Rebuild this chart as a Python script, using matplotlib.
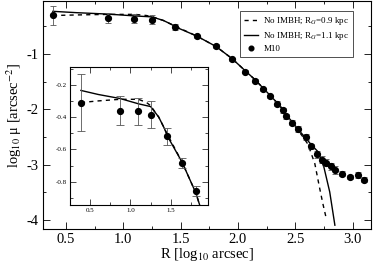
import numpy as np
import matplotlib
matplotlib.use("Agg")
import matplotlib.pyplot as plt
from matplotlib.ticker import MultipleLocator

plt.rcParams['font.family'] = ['Liberation Serif', 'DejaVu Serif']
plt.rcParams['mathtext.fontset'] = 'stix'
plt.rcParams['axes.unicode_minus'] = False

# M10 surface brightness profile
r_obs = [0.386, 0.865, 1.095, 1.25, 1.45, 1.64, 1.81, 1.945, 2.06, 2.15, 2.22, 2.28,
         2.34, 2.39, 2.42, 2.47, 2.52, 2.59, 2.64, 2.69, 2.73, 2.77, 2.81, 2.845,
         2.905, 2.98, 3.05, 3.10]
mu_obs = [-0.31, -0.36, -0.365, -0.385, -0.52, -0.685, -0.86, -1.10, -1.32, -1.485, -1.64, -1.77,
          -1.90, -2.02, -2.13, -2.24, -2.36, -2.50, -2.67, -2.81, -2.91, -2.96, -3.03, -3.09,
          -3.16, -3.22, -3.19, -3.27]
mu_err = [0.175, 0.09, 0.085, 0.085, 0.055, 0.03, 0.03, 0.03, 0.03, 0.03, 0.03, 0.03,
          0.04, 0.04, 0.04, 0.05, 0.05, 0.05, 0.05, 0.06, 0.06, 0.06, 0.07, 0.07,
          0.05, 0.04, 0.05, 0.05]

# model, R_G = 0.9 kpc (dashed)
r_09 = [0.386, 0.6, 0.87, 1.10, 1.20, 1.25, 1.35, 1.45, 1.64, 1.81, 1.95, 2.06, 2.15, 2.22,
        2.28, 2.34, 2.39, 2.42, 2.47, 2.52, 2.56, 2.61, 2.67, 2.71, 2.74, 2.77]
mu_09 = [-0.31, -0.30, -0.29, -0.29, -0.31, -0.33, -0.40, -0.50, -0.68, -0.87, -1.09, -1.30,
         -1.47, -1.62, -1.75, -1.88, -2.00, -2.10, -2.23, -2.37, -2.48, -2.63, -2.98, -3.40,
         -3.70, -3.97]

# model, R_G = 1.1 kpc (solid)
r_11 = [0.386, 0.6, 0.87, 1.10, 1.25, 1.35, 1.42, 1.46, 1.64, 1.81, 1.95, 2.06, 2.15, 2.22,
        2.28, 2.34, 2.39, 2.42, 2.47, 2.52, 2.59, 2.64, 2.70, 2.75, 2.80, 2.845]
mu_11 = [-0.235, -0.26, -0.285, -0.318, -0.335, -0.40, -0.47, -0.52, -0.68, -0.87, -1.09, -1.30,
         -1.47, -1.62, -1.75, -1.88, -2.00, -2.10, -2.22, -2.35, -2.52, -2.64, -2.77, -3.05,
         -3.49, -4.09]


def draw(ax, ms, lw, cap):
    ax.plot(r_09, mu_09, color='black', ls=(0, (3, 3)), lw=lw, label='No IMBH; R$_G$=0.9 kpc')
    ax.plot(r_11, mu_11, color='black', ls='-', lw=lw, label='No IMBH; R$_G$=1.1 kpc')
    ax.errorbar(r_obs, mu_obs, yerr=mu_err, fmt='none', elinewidth=0.6,
                capsize=cap, capthick=0.6, ecolor='#555555')
    ax.plot(r_obs, mu_obs, 'o', color='black', ms=ms, label='M10')


fig = plt.figure(figsize=(3.74, 2.67), dpi=100)
ax = fig.add_axes([0.115, 0.142, 0.877, 0.854])
draw(ax, 4.2, 1.0, 2.5)
ax.set_xlim(0.3, 3.16)
ax.set_ylim(-4.16, -0.05)
ax.xaxis.set_major_locator(MultipleLocator(0.5))
ax.xaxis.set_minor_locator(MultipleLocator(0.25))
ax.yaxis.set_major_locator(MultipleLocator(1))
ax.yaxis.set_minor_locator(MultipleLocator(0.5))
ax.tick_params(which='both', direction='in', top=True, right=True, labelsize=10.5, pad=3)
ax.tick_params(which='major', length=5, width=0.6)
ax.tick_params(which='minor', length=2.5, width=0.6)
for s in ax.spines.values():
    s.set_linewidth(0.8)
ax.set_xlabel('R [log$_{10}$ arcsec]', fontsize=10.5, labelpad=0)
ax.set_ylabel('log$_{10}$ μ [arcsec$^{-2}$]', fontsize=10.5, labelpad=2)

leg = ax.legend(loc='upper right', bbox_to_anchor=(0.945, 0.956), fontsize=6.5, frameon=True,
                fancybox=False, edgecolor='black', handlelength=1.6, borderpad=0.4,
                labelspacing=0.35, handletextpad=0.55, borderaxespad=0,
                numpoints=1, markerscale=0.8)
leg.get_frame().set_linewidth(0.6)

# inset zoom on the core
axin = fig.add_axes([0.187, 0.232, 0.369, 0.517])
draw(axin, 4.2, 1.0, 3)
axin.set_xlim(0.25, 1.96)
axin.set_ylim(-0.945, -0.09)
axin.xaxis.set_major_locator(MultipleLocator(0.5))
axin.xaxis.set_minor_locator(MultipleLocator(0.25))
axin.yaxis.set_major_locator(MultipleLocator(0.2))
axin.yaxis.set_minor_locator(MultipleLocator(0.1))
axin.tick_params(which='both', direction='in', top=True, right=True, labelsize=5, pad=2)
axin.tick_params(which='major', length=4, width=0.5)
axin.tick_params(which='minor', length=2, width=0.5)
for s in axin.spines.values():
    s.set_linewidth(0.8)

fig.savefig('out.png', dpi=100)
